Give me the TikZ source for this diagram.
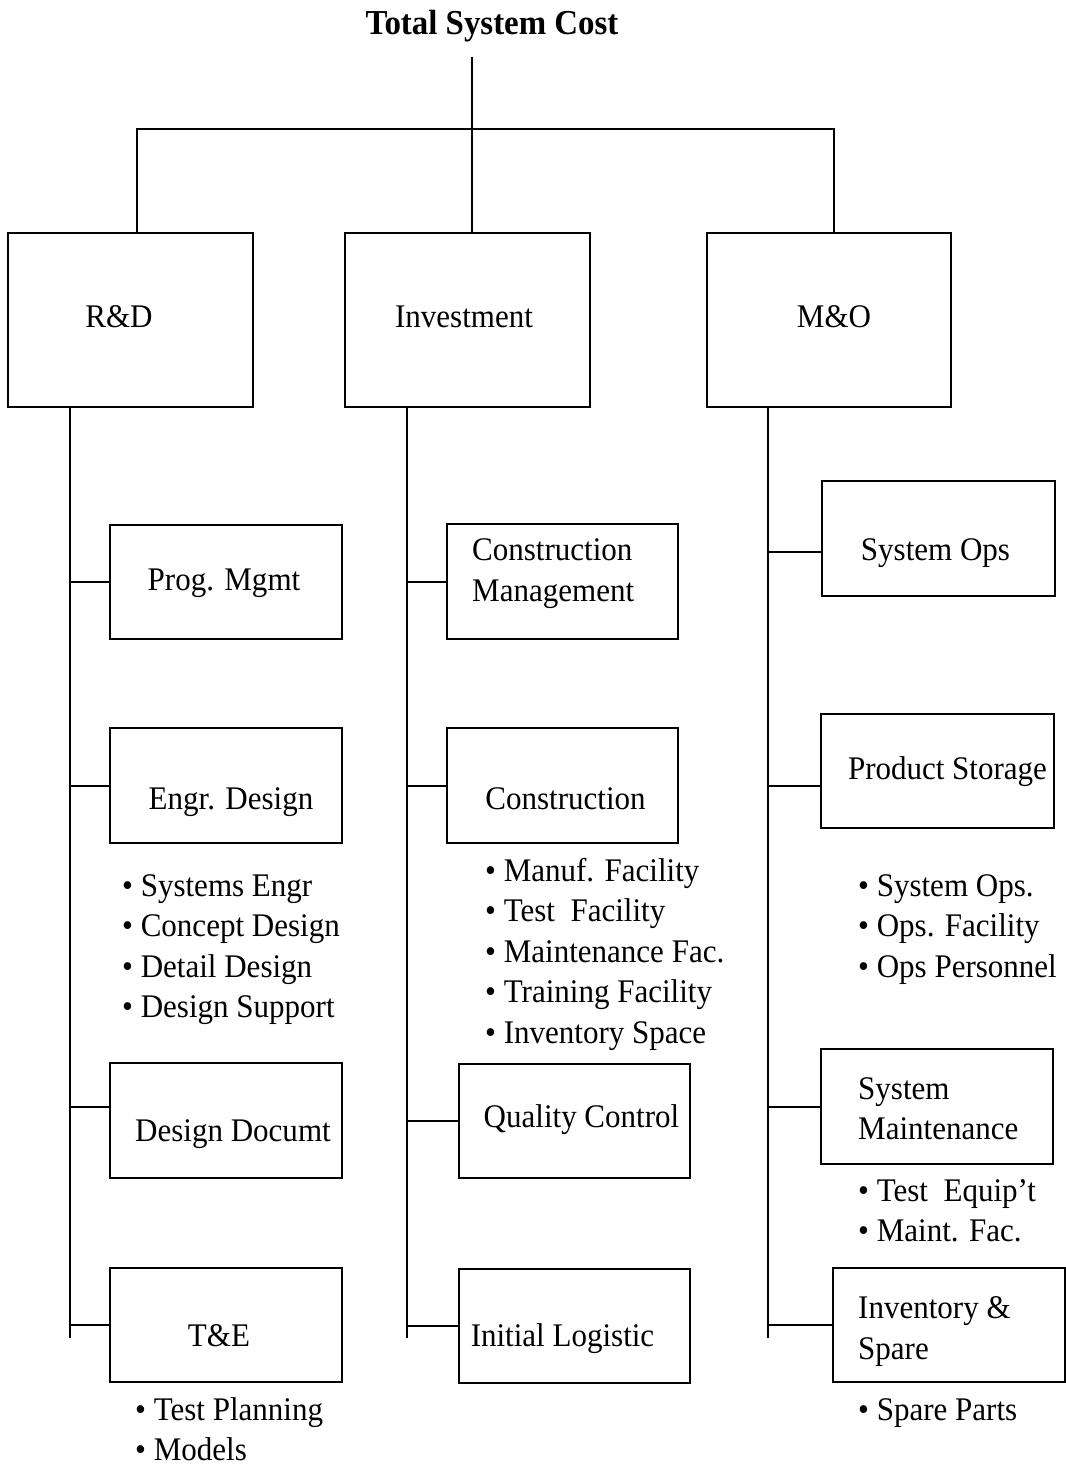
\documentclass[tikz,border=0pt]{standalone}
\usepackage{fontspec}
\setmainfont{Liberation Serif}[FakeStretch=0.94]
\begin{document}
\begin{tikzpicture}[x=1pt,y=-1pt,
  box/.style={draw, line width=2pt, rectangle, inner sep=0pt, anchor=north west},
  lbl/.style={font=\fontsize{33}{40}\selectfont, inner sep=0pt, anchor=base},
  lbll/.style={lbl, anchor=base west},
  wire/.style={line width=2pt}]
\useasboundingbox (0,0) rectangle (1065,1466);

% title
\node[font=\bfseries\fontsize{35}{40}\selectfont, inner sep=0pt, anchor=base] (title) at (492,35) {Total System Cost};

% top-level boxes
\node[box, minimum width=245pt, minimum height=174pt] (rd)  at (7,232) {};
\node[box, minimum width=245pt, minimum height=174pt] (inv) at (344,232) {};
\node[box, minimum width=244pt, minimum height=174pt] (mo)  at (706,232) {};
\node[lbl] (rdt)  at (119,327) {R\&D};
\node[lbl] (invt) at (464,327) {Investment};
\node[lbl] (mot)  at (834,327) {M\&O};

% bus from the title to the three branches
\coordinate (top) at (472,57);
\coordinate (bus) at (472,129);
\draw[wire] (top) -- (top |- inv.north);
\draw[wire] ([xshift=6.5pt]rd.north) |- (bus) -| ([xshift=5pt]mo.north);

% R&D branch
\node[box, minimum width=232pt, minimum height=114pt] (pm) at (109,524) {};
\node[box, minimum width=232pt, minimum height=115pt] (ed) at (109,727) {};
\node[box, minimum width=232pt, minimum height=115pt] (dd) at (109,1062) {};
\node[box, minimum width=232pt, minimum height=114pt] (te) at (109,1267) {};
\node[lbl] (pmt) at (224,590) {Prog. Mgmt};
\node[lbl] (edt) at (231,809) {Engr. Design};
\node[lbl] (ddt) at (233,1141) {Design Documt};
\node[lbl] (tet) at (219,1346) {T\&E};
\foreach \t [count=\i from 0] in {Systems Engr, Concept Design, Detail Design, Design Support}
  \node[lbll] (edb\i) at (122,896+40.5*\i) {• \t};
\foreach \t [count=\i from 0] in {Test Planning, Models}
  \node[lbll] (teb\i) at (135,1420+40*\i) {• \t};

\coordinate (rdx) at (70,1338);
\coordinate (ddc) at ([yshift=14pt]dd.west);
\draw[wire] (rdx |- rd.south) -- (rdx);
\draw[wire] (pm.west) -- (pm.west -| rdx);
\draw[wire] (ed.west) -- (ed.west -| rdx);
\draw[wire] (ddc) -- (ddc -| rdx);
\draw[wire] (te.west) -- (te.west -| rdx);

% Investment branch
\node[box, minimum width=231pt, minimum height=115pt] (cm) at (446,523) {};
\node[box, minimum width=231pt, minimum height=115pt] (co) at (446,727) {};
\node[box, minimum width=231pt, minimum height=114pt] (qc) at (458,1063) {};
\node[box, minimum width=231pt, minimum height=114pt] (il) at (458,1268) {};
\node[lbll] (cmt1) at (472,560) {Construction};
\node[lbll] (cmt2) at (472,601) {Management};
\node[lbl] (cot) at (565.5,809) {Construction};
\node[lbl] (qct) at (581.5,1127) {Quality Control};
\node[lbl] (ilt) at (562.5,1346) {Initial Logistic};
\foreach \t [count=\i from 0] in {Manuf. Facility, Test\ \ Facility, Maintenance Fac., Training Facility, Inventory Space}
  \node[lbll] (cob\i) at (485,881+40.5*\i) {• \t};

\coordinate (invx) at (407,1338);
\draw[wire] (invx |- inv.south) -- (invx);
\draw[wire] (cm.west) -- (cm.west -| invx);
\draw[wire] (co.west) -- (co.west -| invx);
\draw[wire] (qc.west) -- (qc.west -| invx);
\draw[wire] (il.west) -- (il.west -| invx);

% M&O branch
\node[box, minimum width=233pt, minimum height=115pt] (so) at (821,480) {};
\node[box, minimum width=233pt, minimum height=114pt] (ps) at (820,713) {};
\node[box, minimum width=232pt, minimum height=115pt] (sm) at (820,1048) {};
\node[box, minimum width=232pt, minimum height=114pt] (is) at (832,1267) {};
\node[lbl] (sot) at (935.5,560) {System Ops};
\node[lbl] (pst) at (947.5,779) {Product Storage};
\node[lbll] (smt1) at (858,1099) {System};
\node[lbll] (smt2) at (858,1139) {Maintenance};
\node[lbll] (ist1) at (858,1318) {Inventory \&};
\node[lbll] (ist2) at (858,1359) {Spare};
\foreach \t [count=\i from 0] in {System Ops., Ops. Facility, Ops Personnel}
  \node[lbll] (psb\i) at (858,896+40.5*\i) {• \t};
\foreach \t [count=\i from 0] in {Test\ \ Equip’t, Maint. Fac.}
  \node[lbll] (smb\i) at (858,1201+40.5*\i) {• \t};
\node[lbll] (isb0) at (858,1420) {• Spare Parts};

\coordinate (mox) at (768,1338);
\coordinate (soc) at ([yshift=-13pt]so.west);
\coordinate (psc) at ([yshift=-15pt]ps.west);
\draw[wire] (mox |- mo.south) -- (mox);
\draw[wire] (soc) -- (soc -| mox);
\draw[wire] (psc) -- (psc -| mox);
\draw[wire] (sm.west) -- (sm.west -| mox);
\draw[wire] (is.west) -- (is.west -| mox);
\end{tikzpicture}
\end{document}
